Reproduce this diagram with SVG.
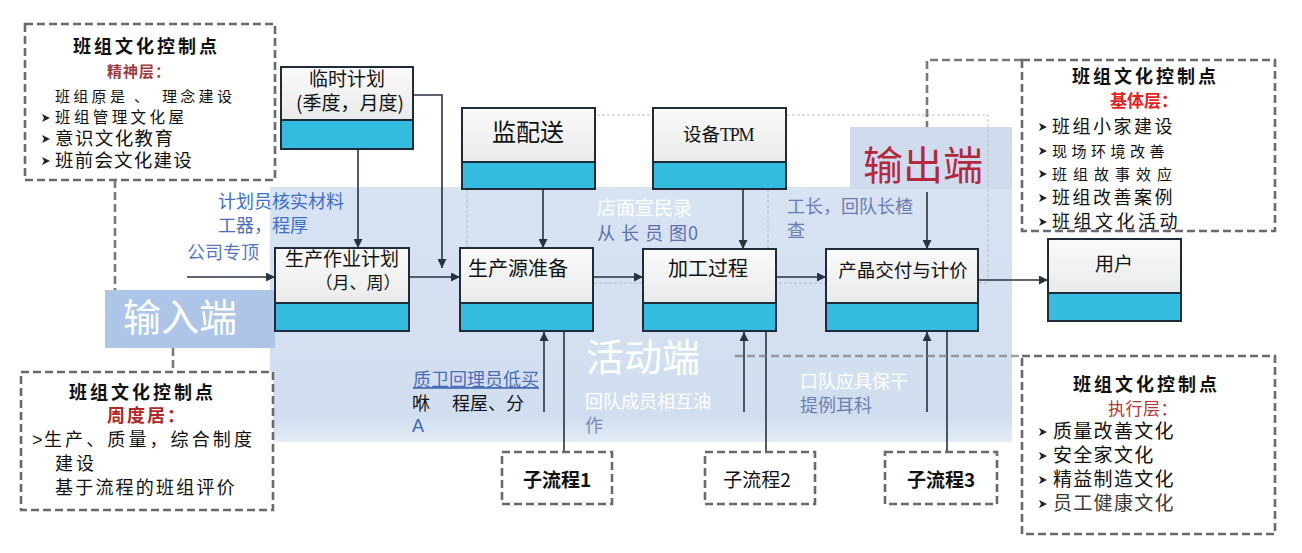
<svg xmlns="http://www.w3.org/2000/svg" width="1302" height="553" viewBox="0 0 1302 553">
<defs>
<style>
text{font-family:'Noto Sans CJK SC','Noto Sans',sans-serif;fill:#111}
.top{fill:url(#topg)}
.band{fill:#33bbe0}
.frame{fill:none;stroke:#1e2b38;stroke-width:2}
.sep{stroke:#1e2b38;stroke-width:2}
.ctl{fill:#fff;stroke:#6a6a6a;stroke-width:2.6;stroke-dasharray:8 4}
.conn{stroke:#29323e;stroke-width:1.6;fill:none}
.dconn{stroke:#7a7a7a;stroke-width:2.6;stroke-dasharray:8 4;fill:none}
.faint{stroke:#b0b0b0;stroke-width:0.8;stroke-dasharray:3 2;fill:none}
.nt{font-size:19px;text-anchor:middle}
.ttl{font-size:18px;font-weight:bold;letter-spacing:3px}
.lbl{font-size:18px}
.big{font-size:38px}
</style>
<linearGradient id="topg" x1="0" y1="0" x2="0" y2="1">
<stop offset="0" stop-color="#fafafa"/>
<stop offset="1" stop-color="#e9eaea"/>
</linearGradient>
<linearGradient id="bgg" x1="0" y1="0" x2="0" y2="1">
<stop offset="0" stop-color="#d8e3f2"/>
<stop offset="0.9" stop-color="#d1deef"/>
<stop offset="1" stop-color="#e3ebf6"/>
</linearGradient>
<marker id="arr" viewBox="0 0 10 10" refX="10" refY="5" markerWidth="9" markerHeight="9" markerUnits="userSpaceOnUse" orient="auto">
<path d="M0,0 L10,5 L0,10 z" fill="#29323e"/>
</marker>
<polygon id="bul" points="0,-4 8,0 0,4 2,0" fill="#222"/>
</defs>

<rect width="1302" height="553" fill="#ffffff"/>

<g id="background">
<rect x="270" y="187" width="742" height="255" fill="url(#bgg)"/>
<rect x="105" y="290" width="170" height="58" fill="#adc6e7"/>
<rect x="850" y="127" width="162" height="62" fill="#cfdcee"/>
<rect x="467" y="115" width="521" height="168" class="faint"/>
<line x1="768" y1="115" x2="768" y2="283" class="faint"/>
</g>

<g id="connectors">
<line x1="187" y1="277" x2="275" y2="277" class="conn" marker-end="url(#arr)"/>
<line x1="409" y1="277" x2="460" y2="277" class="conn" marker-end="url(#arr)"/>
<line x1="593" y1="277" x2="643" y2="277" class="conn" marker-end="url(#arr)"/>
<line x1="776" y1="277" x2="826" y2="277" class="conn" marker-end="url(#arr)"/>
<line x1="978" y1="280" x2="1048" y2="280" class="conn" marker-end="url(#arr)"/>
<polyline points="413,95 442,95 442,268" class="conn" marker-end="url(#arr)"/>
<line x1="358" y1="149" x2="358" y2="248" class="conn" marker-end="url(#arr)"/>
<line x1="543" y1="189" x2="543" y2="248" class="conn" marker-end="url(#arr)"/>
<line x1="743" y1="189" x2="743" y2="249" class="conn" marker-end="url(#arr)"/>
<line x1="927" y1="192" x2="927" y2="249" class="conn" marker-end="url(#arr)"/>
<line x1="544" y1="412" x2="544" y2="332" class="conn" marker-end="url(#arr)"/>
<line x1="744" y1="412" x2="744" y2="332" class="conn" marker-end="url(#arr)"/>
<line x1="927" y1="412" x2="927" y2="332" class="conn" marker-end="url(#arr)"/>
<line x1="564" y1="331" x2="564" y2="452" class="conn"/>
<line x1="766" y1="331" x2="766" y2="452" class="conn"/>
<line x1="947" y1="331" x2="947" y2="452" class="conn"/>
<line x1="115" y1="180" x2="115" y2="290" class="dconn"/>
<line x1="173" y1="348" x2="173" y2="372" class="dconn"/>
<polyline points="1022,60 927,60 927,127" class="dconn"/>
<line x1="735" y1="356" x2="1022" y2="356" class="dconn" stroke-opacity="0.7"/>
</g>

<g id="node-linshi">
<rect x="281" y="67" width="132" height="53" class="top"/>
<rect x="281" y="120" width="132" height="29" class="band"/>
<line x1="281" y1="120" x2="413" y2="120" class="sep"/>
<rect x="281" y="67" width="132" height="82" class="frame"/>
<text x="347" y="86" class="nt">临时计划</text>
<text x="350" y="110" class="nt">(季度，月度)</text>
</g>

<g id="node-jianpeisong">
<rect x="462" y="108" width="133" height="54" class="top"/>
<rect x="462" y="162" width="133" height="27" class="band"/>
<line x1="462" y1="162" x2="595" y2="162" class="sep"/>
<rect x="462" y="108" width="133" height="81" class="frame"/>
<text x="528" y="141" class="nt" style="font-size:24px">监配送</text>
</g>

<g id="node-tpm">
<rect x="653" y="108" width="133" height="54" class="top"/>
<rect x="653" y="162" width="133" height="27" class="band"/>
<line x1="653" y1="162" x2="786" y2="162" class="sep"/>
<rect x="653" y="108" width="133" height="81" class="frame"/>
<text x="683" y="141" style="font-size:18.5px">设备<tspan style="font-family:'Liberation Serif',serif;font-size:18px;letter-spacing:-1.2px">TPM</tspan></text>
</g>

<g id="node-zuoye">
<rect x="275" y="248" width="134" height="55" class="top"/>
<rect x="275" y="303" width="134" height="28" class="band"/>
<line x1="275" y1="303" x2="409" y2="303" class="sep"/>
<rect x="275" y="248" width="134" height="83" class="frame"/>
<text x="342" y="266" class="nt">生产作业计划</text>
<text x="358" y="289" class="nt" style="font-size:17px">（月、周）</text>
</g>

<g id="node-zhunbei">
<rect x="460" y="248" width="133" height="55" class="top"/>
<rect x="460" y="303" width="133" height="28" class="band"/>
<line x1="460" y1="303" x2="593" y2="303" class="sep"/>
<rect x="460" y="248" width="133" height="83" class="frame"/>
<text x="468" y="276" style="font-size:20px">生产源准备</text>
</g>

<g id="node-jiagong">
<rect x="643" y="249" width="133" height="54" class="top"/>
<rect x="643" y="303" width="133" height="28" class="band"/>
<line x1="643" y1="303" x2="776" y2="303" class="sep"/>
<rect x="643" y="249" width="133" height="82" class="frame"/>
<text x="708" y="276" class="nt" style="font-size:20px">加工过程</text>
</g>

<g id="node-jiaofu">
<rect x="826" y="249" width="152" height="54" class="top"/>
<rect x="826" y="303" width="152" height="28" class="band"/>
<line x1="826" y1="303" x2="978" y2="303" class="sep"/>
<rect x="826" y="249" width="152" height="82" class="frame"/>
<text x="903" y="277" class="nt" style="font-size:18.5px">产晶交付与计价</text>
</g>

<g id="node-yonghu">
<rect x="1048" y="239" width="133" height="54" class="top"/>
<rect x="1048" y="293" width="133" height="28" class="band"/>
<line x1="1048" y1="293" x2="1181" y2="293" class="sep"/>
<rect x="1048" y="239" width="133" height="82" class="frame"/>
<text x="1114" y="271" class="nt">用户</text>
</g>

<g id="node-sub1">
<rect x="502" y="452" width="110" height="52" class="ctl"/>
<text x="557" y="487" class="nt" style="font-size:19px;font-weight:bold">子流程1</text>
</g>
<g id="node-sub2">
<rect x="705" y="452" width="110" height="52" class="ctl"/>
<text x="757" y="487" class="nt" style="font-size:19px">子流程2</text>
</g>
<g id="node-sub3">
<rect x="885" y="452" width="112" height="52" class="ctl"/>
<text x="941" y="487" class="nt" style="font-size:19px;font-weight:bold">子流程3</text>
</g>

<g id="ctl-jingshen">
<rect x="25" y="24" width="250" height="156" class="ctl"/>
<text x="73" y="53" class="ttl">班组文化控制点</text>
<text x="107" y="77" style="font-size:15px;font-weight:bold;fill:#a33a3a;letter-spacing:1px">精神层：</text>
<text y="102" style="font-size:15px;letter-spacing:3.3px"><tspan x="55">班组原是</tspan><tspan x="134">、</tspan><tspan x="162">理念建设</tspan></text>
<use href="#bul" x="42" y="118"/>
<text x="55" y="123" style="font-size:15.5px;letter-spacing:3.4px">班组管理文化屋</text>
<use href="#bul" x="42" y="139"/>
<text x="55" y="145" style="font-size:18.5px;letter-spacing:1.4px">意识文化教育</text>
<use href="#bul" x="42" y="161"/>
<text x="55" y="167" style="font-size:18.5px;letter-spacing:1.2px">班前会文化建设</text>
</g>

<g id="ctl-zhidu">
<rect x="21" y="372" width="252" height="138" class="ctl"/>
<text x="69" y="399" class="ttl">班组文化控制点</text>
<text x="107" y="422" style="font-size:18px;font-weight:bold;fill:#b0282a;letter-spacing:2px">周度居：</text>
<text y="446" style="font-size:18px;letter-spacing:3.1px"><tspan x="32" style="font-family:'Liberation Sans',sans-serif;letter-spacing:0">&gt;</tspan><tspan x="44">生产、质量，综合制度</tspan></text>
<text x="55" y="470" style="font-size:18px;letter-spacing:3px">建设</text>
<text x="55" y="494" style="font-size:18px;letter-spacing:2.2px">基于流程的班组评价</text>
</g>

<g id="ctl-jiti">
<rect x="1022" y="60" width="253" height="171" class="ctl"/>
<text x="1072" y="83" class="ttl">班组文化控制点</text>
<text x="1110" y="107" style="font-size:17px;font-weight:bold;fill:#e52222">基体层：</text>
<use href="#bul" x="1039" y="127"/>
<text x="1052" y="133" style="font-size:18px;letter-spacing:2.5px">班组小家建设</text>
<use href="#bul" x="1039" y="151"/>
<text x="1052" y="157" style="font-size:15px;letter-spacing:4.5px">现场环境改善</text>
<use href="#bul" x="1039" y="174"/>
<text x="1052" y="180" style="font-size:15px;letter-spacing:6px">班组故事效应</text>
<use href="#bul" x="1039" y="198"/>
<text x="1052" y="204" style="font-size:18px;letter-spacing:2.5px">班组改善案例</text>
<use href="#bul" x="1039" y="222"/>
<text x="1052" y="228" style="font-size:18px;letter-spacing:3.5px">班组文化活动</text>
</g>

<g id="ctl-zhixing">
<rect x="1022" y="356" width="253" height="178" class="ctl"/>
<text x="1073" y="391" class="ttl">班组文化控制点</text>
<text x="1108" y="415" style="font-size:17px;fill:#b53535;letter-spacing:0.5px">执行层：</text>
<use href="#bul" x="1039" y="432"/>
<text x="1053" y="438" style="font-size:19px;letter-spacing:1.3px">质量改善文化</text>
<use href="#bul" x="1039" y="456"/>
<text x="1053" y="462" style="font-size:19px;letter-spacing:1.3px">安全家文化</text>
<use href="#bul" x="1039" y="480"/>
<text x="1053" y="486" style="font-size:19px;letter-spacing:1.3px">精益制造文化</text>
<use href="#bul" x="1039" y="504"/>
<text x="1053" y="510" style="font-size:19px;letter-spacing:1.3px;fill:#3a3a3a">员工健康文化</text>
</g>

<g id="labels">
<text x="123" y="331" class="big" style="fill:#ffffff">输入端</text>
<text x="586" y="371" class="big" style="fill:#ffffff">活动端</text>
<text x="863" y="180" class="big" style="font-size:40px;fill:#b5283c">输出端</text>
<text x="218" y="208" class="lbl" style="fill:#3b6fc8">计划员核实材料</text>
<text x="218" y="232" class="lbl" style="fill:#4b70c0">工器，<tspan style="fill:#3b6fc8">程厚</tspan></text>
<text x="187" y="259" class="lbl" style="fill:#5577c0">公司专顶</text>
<text x="597" y="215" class="lbl" style="font-size:19px;fill:#ffffff">店面宣民录</text>
<text x="597" y="240" class="lbl" style="fill:#5a70b0;letter-spacing:1px">从 长 员 图0</text>
<text x="787" y="213" class="lbl" style="fill:#6a7db5">工长，回队长楂</text>
<text x="787" y="237" class="lbl" style="fill:#6a7db5">查</text>
<text x="413" y="386" class="lbl" style="fill:#4a6db8;text-decoration:underline">质卫回理员低买</text>
<text y="410" class="lbl"><tspan x="412">咻</tspan><tspan x="452">程屋、分</tspan></text>
<text x="412" y="432" class="lbl" style="fill:#3d66b5;font-family:'Liberation Sans',sans-serif">A</text>
<text x="585" y="408" class="lbl" style="fill:#ffffff">回队成员相互油</text>
<text x="585" y="432" class="lbl" style="fill:#7a8db5">作</text>
<text x="800" y="388" class="lbl" style="fill:#ffffff">口队应具保干</text>
<text x="800" y="412" class="lbl" style="fill:#6d7fae">提例耳科</text>
</g>
</svg>
